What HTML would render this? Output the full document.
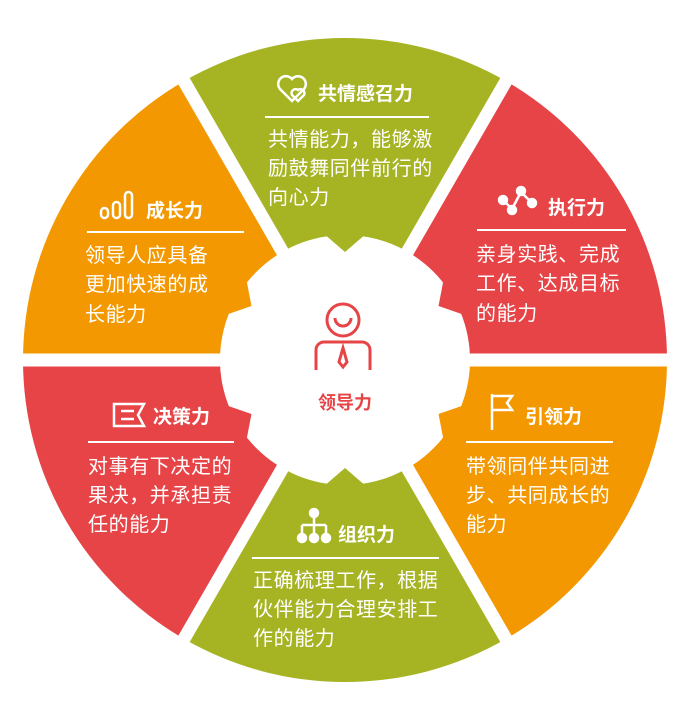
<!DOCTYPE html>
<html><head><meta charset="utf-8"><style>
body{margin:0;background:#fff;}
svg{display:block;font-family:"Liberation Sans","Noto Sans CJK SC",sans-serif;}
.t{fill:#fff;font-size:20px;letter-spacing:0.6px;}
.h{fill:#fff;font-size:19px;font-weight:bold;}
</style></head><body>
<svg width="690" height="721" viewBox="0 0 690 721">
<g>
<path d="M345 360 L184 81.1 A322 322 0 0 1 506 81.1Z" fill="#a6b424"/>
<path d="M345 360 L506 81.1 A322 322 0 0 1 667 360Z" fill="#e64446"/>
<path d="M345 360 L667 360 A322 322 0 0 1 506 638.9Z" fill="#f39800"/>
<path d="M345 360 L506 638.9 A322 322 0 0 1 184 638.9Z" fill="#a6b424"/>
<path d="M345 360 L184 638.9 A322 322 0 0 1 23 360Z" fill="#e64446"/>
<path d="M345 360 L23 360 A322 322 0 0 1 184 81.1Z" fill="#f39800"/>
</g>
<g stroke="#fff" stroke-width="13">
<line x1="345" y1="360" x2="680" y2="360"/>
<line x1="345" y1="360" x2="10" y2="360"/>
<line x1="345" y1="360" x2="177" y2="69"/>
<line x1="345" y1="360" x2="513" y2="69"/>
<line x1="345" y1="360" x2="177" y2="651"/>
<line x1="345" y1="360" x2="513" y2="651"/>
</g>
<circle cx="345" cy="360" r="125" fill="#fff"/>
<g>
<polygon points="323,233 367,233 345,252" fill="#a6b424"/>
<polygon points="323,233 367,233 345,252" fill="#e64446" transform="rotate(60 345 360)"/>
<polygon points="323,233 367,233 345,252" fill="#f39800" transform="rotate(120 345 360)"/>
<polygon points="323,233 367,233 345,252" fill="#a6b424" transform="rotate(180 345 360)"/>
<polygon points="323,233 367,233 345,252" fill="#e64446" transform="rotate(240 345 360)"/>
<polygon points="323,233 367,233 345,252" fill="#f39800" transform="rotate(300 345 360)"/>
</g>
<g fill="none" stroke="#e64446" stroke-width="3">
<circle cx="343" cy="320" r="16"/>
<path d="M335 318 a8 8 0 0 0 16 0"/>
<path d="M316 370 v-20 a8 8 0 0 1 8 -8 h38 a8 8 0 0 1 8 8 v20"/>
<path d="M343 348 l-4 14 l4 5 l4 -5 z"/>
</g>
<text x="345" y="409" text-anchor="middle" font-size="18" font-weight="bold" fill="#e64446">领导力</text>

<g fill="none" stroke="#fff" stroke-width="2.5">
<path d="M292 101 l-12 -12 a7 7 0 0 1 12 -10 a7 7 0 0 1 12 10 z"/>
<path d="M298 101 l-6 -6 a4 4 0 0 1 6 -5 a4 4 0 0 1 6 5z"/>
</g>
<text class="h" x="318" y="100">共情感召力</text>
<rect x="265" y="116" width="164" height="2" fill="#fff"/>
<text class="t" x="268" y="146">共情能力，能够激</text>
<text class="t" x="268" y="175">励鼓舞同伴前行的</text>
<text class="t" x="268" y="204">向心力</text>

<g fill="none" stroke="#fff" stroke-width="2.5">
<rect x="101" y="208" width="7" height="10" rx="3.5"/>
<rect x="113" y="202" width="7" height="16" rx="3.5"/>
<rect x="125" y="192" width="7" height="26" rx="3.5"/>
</g>
<text class="h" x="146" y="217">成长力</text>
<rect x="87" y="231" width="157" height="2" fill="#fff"/>
<text class="t" x="85" y="262">领导人应具备</text>
<text class="t" x="85" y="291">更加快速的成</text>
<text class="t" x="85" y="321">长能力</text>

<g stroke="#fff" stroke-width="2.5" fill="none">
<path d="M503 200 L512 209 L521 192 L531 202"/>
<circle cx="503" cy="200" r="4" fill="#fff"/><circle cx="512" cy="210" r="4" fill="#fff"/>
<circle cx="521" cy="191" r="4" fill="#fff"/><circle cx="532" cy="203" r="4" fill="#fff"/>
</g>
<text class="h" x="548" y="214">执行力</text>
<rect x="477" y="229" width="149" height="2" fill="#fff"/>
<text class="t" x="476" y="261">亲身实践、完成</text>
<text class="t" x="476" y="290">工作、达成目标</text>
<text class="t" x="476" y="320">的能力</text>

<g stroke="#fff" stroke-width="2.5" fill="none">
<path d="M114 404 h30 l-6 11 l6 11 h-30 z"/>
<line x1="121" y1="411" x2="134" y2="411"/><line x1="121" y1="419" x2="134" y2="419"/>
</g>
<text class="h" x="153" y="423">决策力</text>
<rect x="88" y="441" width="146" height="2" fill="#fff"/>
<text class="t" x="88" y="473">对事有下决定的</text>
<text class="t" x="88" y="502">果决，并承担责</text>
<text class="t" x="88" y="531">任的能力</text>

<g stroke="#fff" stroke-width="2.5" fill="none">
<line x1="492" y1="394" x2="492" y2="430"/>
<path d="M492 396 h20 l-5 7 l5 7 h-20"/>
</g>
<text class="h" x="525" y="423">引领力</text>
<rect x="466" y="441" width="147" height="2" fill="#fff"/>
<text class="t" x="466" y="473">带领同伴共同进</text>
<text class="t" x="466" y="502">步、共同成长的</text>
<text class="t" x="466" y="531">能力</text>

<g stroke="#fff" stroke-width="2.5" fill="#fff">
<circle cx="314" cy="513" r="4"/>
<path d="M314 517 v8 M302 525 h24 M302 525 v8 M314 525 v8 M326 525 v8" fill="none"/>
<circle cx="302" cy="538" r="4"/><circle cx="314" cy="538" r="4"/><circle cx="326" cy="538" r="4"/>
</g>
<text class="h" x="338" y="541">组织力</text>
<rect x="252" y="557" width="187" height="2" fill="#fff"/>
<text class="t" x="253" y="587">正确梳理工作，根据</text>
<text class="t" x="253" y="616">伙伴能力合理安排工</text>
<text class="t" x="253" y="645">作的能力</text>
</svg>
</body></html>
